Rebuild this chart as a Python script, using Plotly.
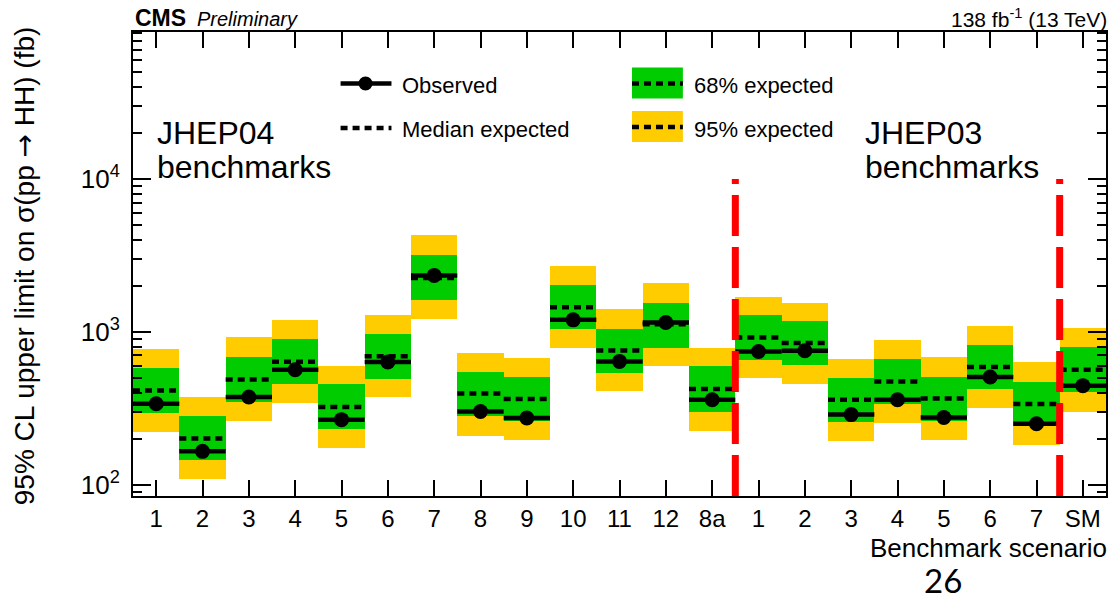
import numpy as np
import plotly.graph_objects as go

# Benchmark scenarios: JHEP04 (1-12, 8a), JHEP03 (1-7), SM
labels = ["1", "2", "3", "4", "5", "6", "7", "8", "9", "10", "11", "12", "8a",
          "1", "2", "3", "4", "5", "6", "7", "SM"]

# 95% CL upper limits on sigma(pp -> HH) in fb
observed = [338, 165, 374, 565, 266, 634, 2340, 301, 273, 1198, 640, 1150, 359,
            743, 751, 287, 359, 275, 506, 250, 444]
median = [413, 200, 488, 637, 322, 693, 2250, 394, 363, 1449, 755, 1120, 422,
          918, 844, 359, 473, 366, 588, 337, 565]
lo68 = [294, 144, 347, 453, 231, 493, 1618, 279, 259, 1042, 537, 789, 300,
        656, 602, 257, 337, 262, 422, 241, 401]
hi68 = [580, 279, 687, 896, 453, 970, 3200, 548, 506, 2028, 1051, 1555, 593,
        1286, 1175, 498, 659, 508, 822, 471, 794]
lo95 = [221, 109, 261, 340, 173, 372, 1222, 209, 195, 782, 407, 593, 225,
        498, 453, 192, 252, 196, 315, 181, 300]
hi95 = [771, 372, 918, 1198, 600, 1297, 4285, 726, 673, 2700, 1407, 2100, 789,
        1702, 1555, 663, 883, 679, 1099, 630, 1067]

# group separators sit after the last JHEP04 point and after the last JHEP03 point
n_jhep04 = 13
n_jhep03 = 7

YELLOW = "#FFCC00"
GREEN = "#00CC00"
RED = "#FF0000"
FONT = "Liberation Sans, Arial, Helvetica, sans-serif"

W, H = 1114, 599
L, R, T, B = 133, 1108, 32, 496
Y_LOG_RANGE = [1.925, 4.963]

x = np.arange(len(labels))


def px(v):
    return (v - L) / (R - L)


def py(v):
    return (B - v) / (B - T)


def segments(vals):
    xs, ys = [], []
    for i, v in zip(x, vals):
        xs += [i - 0.5, i + 0.5, None]
        ys += [v, v, None]
    return xs, ys


fig = go.Figure()

fig.add_trace(go.Bar(x=x, y=np.array(hi95) - np.array(lo95), base=lo95, width=1.0,
                     marker=dict(color=YELLOW, line=dict(width=0)), showlegend=False))
fig.add_trace(go.Bar(x=x, y=np.array(hi68) - np.array(lo68), base=lo68, width=1.0,
                     marker=dict(color=GREEN, line=dict(width=0)), showlegend=False))

mx, my = segments(median)
fig.add_trace(go.Scatter(x=mx, y=my, mode="lines",
                         line=dict(color="black", width=4.5, dash="7px,5px"),
                         showlegend=False))
ox, oy = segments(observed)
fig.add_trace(go.Scatter(x=ox, y=oy, mode="lines",
                         line=dict(color="black", width=4.5), showlegend=False))
fig.add_trace(go.Scatter(x=x, y=observed, mode="markers",
                         marker=dict(color="black", size=15), showlegend=False))

# red dashed separators between benchmark groups
for b in (n_jhep04, n_jhep04 + n_jhep03):
    fig.add_shape(type="line", xref="x", yref="y", x0=b - 0.5, x1=b - 0.5,
                  y0=10 ** Y_LOG_RANGE[0], y1=1e4,
                  line=dict(color=RED, width=7, dash="41px,11px"), layer="above")

# legend drawn by hand
shapes = []
shapes.append(dict(type="line", xref="paper", yref="paper", x0=px(341), x1=px(392),
                   y0=py(83.5), y1=py(83.5), line=dict(color="black", width=4.5)))
shapes.append(dict(type="circle", xref="paper", yref="paper", x0=px(359), x1=px(373),
                   y0=py(90.5), y1=py(76.5), fillcolor="black", line=dict(width=0)))
shapes.append(dict(type="line", xref="paper", yref="paper", x0=px(341), x1=px(392),
                   y0=py(128), y1=py(128),
                   line=dict(color="black", width=4.5, dash="7px,5px")))
for (ytop, ybot, ymid, col) in [(67.5, 98.5, 83.5, GREEN), (111, 142, 127, YELLOW)]:
    shapes.append(dict(type="rect", xref="paper", yref="paper", x0=px(633), x1=px(684),
                       y0=py(ybot), y1=py(ytop), fillcolor=col, line=dict(width=0)))
    shapes.append(dict(type="line", xref="paper", yref="paper", x0=px(633), x1=px(684),
                       y0=py(ymid), y1=py(ymid),
                       line=dict(color="black", width=4.5, dash="7px,5px")))
for s in shapes:
    fig.add_shape(**s)


def note(text, xp, yp, size, xanchor="left", yanchor="middle", family=FONT, angle=0):
    fig.add_annotation(text=text, xref="paper", yref="paper", x=px(xp), y=py(yp),
                       xanchor=xanchor, yanchor=yanchor, showarrow=False, align="left",
                       textangle=angle, font=dict(family=family, size=size, color="black"))


note("Observed", 401, 85, 22)
note("Median expected", 401, 129, 22)
note("68% expected", 693, 85, 22)
note("95% expected", 693, 129, 22)

for xl, name in [(155, "JHEP04"), (864, "JHEP03")]:
    note(name, xl, 133, 32)
    note("benchmarks", xl, 167, 32)

note("<b>CMS</b>", 133, 18, 23)
note("<i>Preliminary</i>", 195, 19, 20)
note("138 fb<sup>-1</sup> (13 TeV)", 1111, 18, 21, xanchor="right")

note("Benchmark scenario", 1111, 548, 26, xanchor="right")
note("26", 945, 580, 33, xanchor="center", family="Lato, Open Sans, sans-serif")
note("95% CL upper limit on \u03c3(pp <span style=\"font-family:DejaVu Sans\">\u2192</span> HH) (fb)",
     24, 266, 28, xanchor="center", angle=-90)

fig.update_layout(
    width=W, height=H,
    margin=dict(l=L, r=W - R, t=T, b=H - B, pad=0),
    paper_bgcolor="white", plot_bgcolor="white",
    barmode="overlay", bargap=0,
    showlegend=False,
    font=dict(family=FONT, size=24, color="black"),
)

fig.update_xaxes(
    range=[-0.5, len(labels) - 0.5],
    tickmode="array", tickvals=x, ticktext=labels,
    ticks="inside", ticklen=16, tickwidth=1.5, tickcolor="black",
    showline=True, linecolor="black", linewidth=2, mirror="allticks",
    showgrid=False, zeroline=False,
    tickfont=dict(family=FONT, size=24, color="black"),
)

fig.update_yaxes(
    type="log", range=Y_LOG_RANGE,
    tickmode="array", tickvals=[1e2, 1e3, 1e4],
    ticktext=["10<sup>2</sup>", "10<sup>3</sup>", "10<sup>4</sup>"],
    ticks="inside", ticklen=18, tickwidth=1.5, tickcolor="black",
    minor=dict(ticks="inside", ticklen=9, tickwidth=1.5, tickcolor="black",
               dtick="D1", showgrid=False),
    showline=True, linecolor="black", linewidth=2, mirror="allticks",
    showgrid=False, zeroline=False, ticklabelstandoff=6,
    tickfont=dict(family=FONT, size=26, color="black"),
)

fig.write_html("out.html")
